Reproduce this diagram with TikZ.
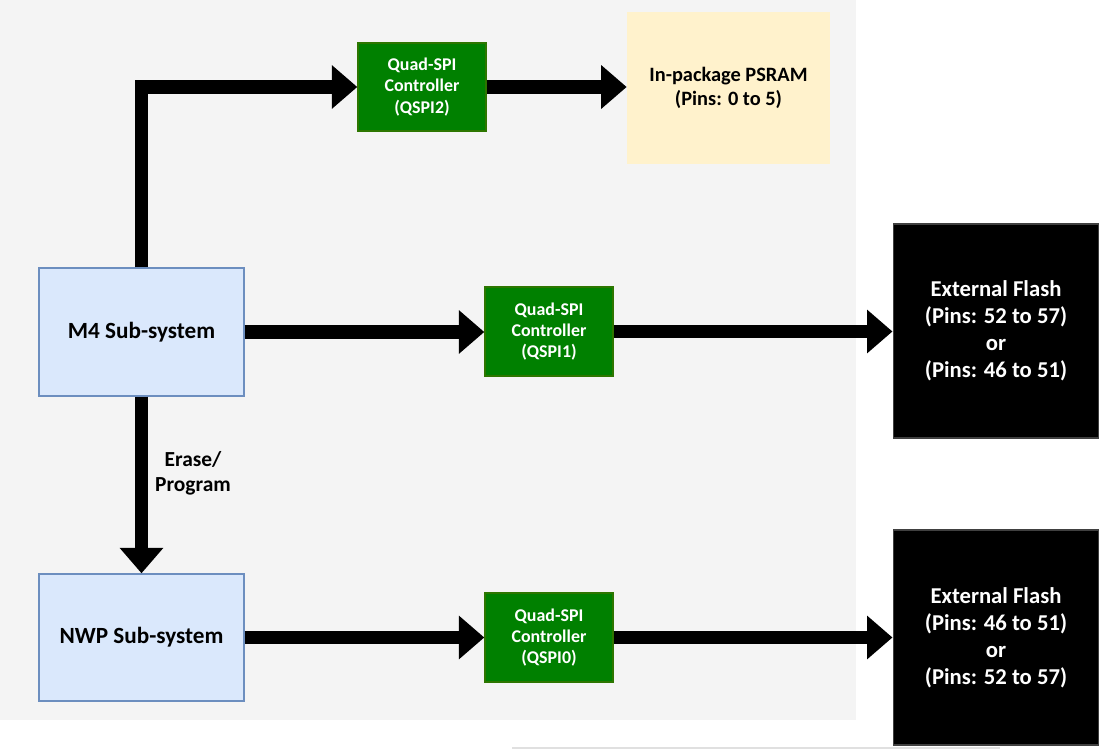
\documentclass[tikz,border=0pt]{standalone}
\usepackage{fontspec}
\setmainfont{Carlito}
\usetikzlibrary{arrows.meta}
\definecolor{bggray}{HTML}{F4F4F4}
\definecolor{subfill}{HTML}{DAE8FC}
\definecolor{subdraw}{HTML}{6C8EBF}
\definecolor{qgreen}{HTML}{008000}
\definecolor{qdraw}{HTML}{2D7600}
\definecolor{psfill}{HTML}{FFF2CC}
\tikzset{
  subbox/.style={draw=subdraw, fill=subfill, line width=0.8pt, align=center, font=\fontsize{13.2}{15.5}\selectfont\bfseries, inner sep=0pt},
  qbox/.style={draw=qdraw, fill=qgreen, line width=0.8pt, text=white, align=center, font=\fontsize{10.2}{12}\selectfont\bfseries, minimum width=2.56cm, minimum height=1.78cm, inner sep=0pt},
  psbox/.style={fill=psfill, align=center, font=\fontsize{11.6}{13.4}\selectfont\bfseries, inner sep=0pt},
  flashbox/.style={fill=black, draw=black!75, line width=0.6pt, text=white, align=center, font=\fontsize{12.9}{15.4}\selectfont\bfseries, minimum width=4.12cm, inner sep=0pt},
  bigarrow/.style={line width=7.9pt, line join=miter, -{Triangle[length=14.5pt, width=24pt]}},
}
\begin{document}
\begin{tikzpicture}[x=0.02cm, y=-0.02cm]
\useasboundingbox (0,0) rectangle (1099,750);
\fill[bggray] (0,0) rectangle (856,720);
\draw[black!12, line width=1.2pt] (512,748) -- (1000,748);

\node[subbox, minimum width=4.1cm, minimum height=2.56cm] (m4) at (141.5,332) {M4 Sub-system};
\node[subbox, minimum width=4.1cm, minimum height=2.54cm] (nwp) at (141.5,637.5) {NWP Sub-system};
\node[qbox, minimum height=1.76cm] (q2) at (422,87) {Quad-SPI\\Controller\\(QSPI2)};
\node[qbox] (q1) at (549,331.5) {Quad-SPI\\Controller\\(QSPI1)};
\node[qbox] (q0) at (549,637.5) {Quad-SPI\\Controller\\(QSPI0)};
\node[psbox, minimum width=4.06cm, minimum height=3.04cm] (ps) at (728.5,88) {In-package PSRAM\\(Pins: 0 to 5)};
\node[flashbox, minimum height=4.28cm] (f1) at (996,331) {External Flash\\(Pins: 52 to 57)\\or\\(Pins: 46 to 51)};
\node[flashbox, minimum height=4.3cm] (f2) at (996,637.5) {External Flash\\(Pins: 46 to 51)\\or\\(Pins: 52 to 57)};

\coordinate (corner) at (m4.north |- q2.west);
\draw[bigarrow] (m4.north) -- (corner) -- (q2.west);
\draw[bigarrow] (q2.east) -- (ps.west |- q2.east);
\draw[bigarrow] (m4.east) -- (q1.west |- m4.east);
\draw[bigarrow] (q1.east) -- (f1.west |- q1.east);
\draw[bigarrow] (m4.south) -- (nwp.north);
\draw[bigarrow] (nwp.east) -- (q0.west |- nwp.east);
\draw[bigarrow] (q0.east) -- (f2.west |- q0.east);

\node[align=center, font=\fontsize{12.2}{14.4}\selectfont\bfseries] (lbl) at (193,473) {Erase/\\Program};
\end{tikzpicture}
\end{document}
